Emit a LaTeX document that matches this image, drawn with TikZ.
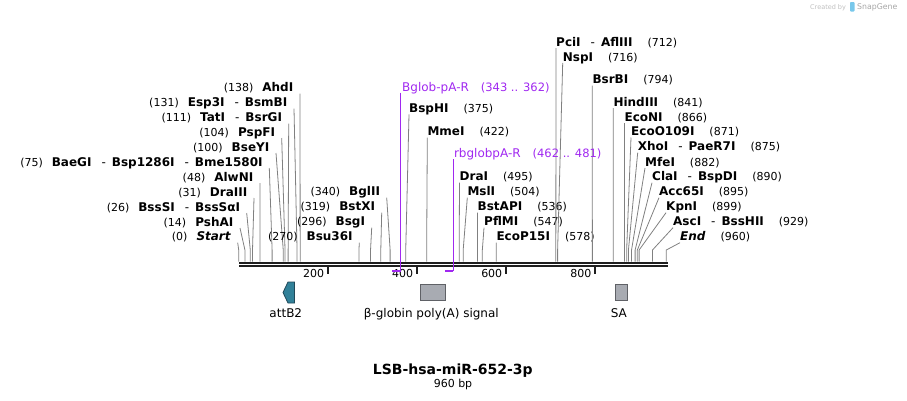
\documentclass[tikz,border=0pt]{standalone}
\usepackage{fontspec}
\setmainfont{DejaVu Sans}
\usepackage{tikz}
\usetikzlibrary{positioning, calc}

\definecolor{cutgray}{RGB}{128,128,128}
\definecolor{bbcol}{RGB}{30,30,30}
\definecolor{primer}{RGB}{160,40,240}
\definecolor{attcol}{RGB}{49,129,153}
\definecolor{attedge}{RGB}{32,72,88}
\definecolor{boxgray}{RGB}{168,171,178}
\definecolor{boxedge}{RGB}{95,97,102}
\definecolor{logoblue}{RGB}{120,200,235}

\newcommand{\numtxt}[1]{{\fontsize{11}{13}\selectfont(#1)}}
\newcommand{\enztxt}[1]{{\fontsize{12}{14}\selectfont\bfseries #1}}
\newcommand{\dsh}{\hspace{10pt}\textmd{-}\hspace{6pt}}

\begin{document}
\begin{tikzpicture}[x=1pt, y=-1pt,
  cut/.style={draw=cutgray, line width=0.8pt},
  leftlbl/.style={anchor=base east, inner xsep=6.5pt, inner ysep=0pt},
  rightlbl/.style={anchor=base west, inner xsep=0pt, inner ysep=0pt},
  pline/.style={draw=primer, line width=1.3pt},
  featbox/.style={draw=boxedge, fill=boxgray, line width=0.8pt, inner sep=0pt},
  featlbl/.style={anchor=base, inner sep=0pt, font=\fontsize{12}{14}\selectfont}]

\useasboundingbox (0,0) rectangle (907,400);

\foreach \n/\s/\lx/\ly/\lab in {ahd/138/300/91.7/AhdI, esp/131/294/106.7/Esp3I\dsh BsmBI,
  tat/111/288.7/121.7/TatI\dsh BsrGI, psp/104/281.7/136/PspFI, bsey/100/276/151/BseYI,
  bae/75/269.3/166/BaeGI\dsh Bsp1286I\dsh Bme1580I, alw/48/260/181/AlwNI,
  draiii/31/254/196/DraIII, bss/26/246.7/211/BssSI\dsh BssSαI, psh/14/240/226/PshAI,
  startm/0/237.7/240.7/\textit{Start},
  bsu/270/359.3/240.7/Bsu36I, bsg/296/371.7/225.7/BsgI, bstx/319/381.7/210.7/BstXI,
  bgl/340/386.7/195.7/BglII}
{
  \coordinate (c\n) at ({238.7+\s*0.4454}, 261.7);
  \node[leftlbl] (\n) at (\lx,\ly) {\numtxt{\s}\hspace{9pt}\enztxt{\lab}};
  \draw[cut] ([yshift=-2pt]\n.base east) -- ([yshift=11.7pt]c\n) -- (c\n);
}

\foreach \n/\s/\lx/\ly/\lab in {bsph/375/409/112.3/BspHI, mme/422/427.3/135.7/MmeI,
  dra/495/459.5/180.7/DraI, msl/504/467.3/195.7/MslI, bsta/536/477.5/210.7/BstAPI,
  pfl/547/484/225.7/PflMI, ecop/578/496.3/240.7/EcoP15I,
  pci/712/556/46/PciI\dsh AflIII, nsp/716/562.7/61/NspI, bsrb/794/592.3/83.5/BsrBI,
  hind/841/613.3/106/HindIII, econ/866/624.4/121/EcoNI, ecoo/871/631/135.5/EcoO109I,
  xho/875/637.7/150.7/XhoI\dsh PaeR7I, mfe/882/645/166/MfeI,
  cla/890/652/180.7/ClaI\dsh BspDI, acc/895/659/195.7/Acc65I, kpn/899/666/210.7/KpnI,
  asc/929/673/225.7/AscI\dsh BssHII, endm/960/680/240.7/\textit{End}}
{
  \coordinate (c\n) at ({238.7+\s*0.4454}, 261.7);
  \node[rightlbl] (\n) at (\lx,\ly) {\enztxt{\lab}\hspace{15pt}\numtxt{\s}};
  \draw[cut] ([yshift=-2pt]\n.base west) -- ([yshift=11.7pt]c\n) -- (c\n);
}

\draw[bbcol, line width=2.3pt] (239,262.8) -- (668,262.8);
\draw[bbcol, line width=2pt] (239,266.3) -- (668,266.3);

\foreach \b in {200,400,600,800}
{
  \coordinate (t\b) at ({238.7+\b*0.4454}, 267);
  \draw[bbcol, line width=2pt] (t\b) -- ++(0,7);
  \node[anchor=base east, inner sep=0pt, font=\fontsize{11}{13}\selectfont] (tl\b) at ({238.7+\b*0.4454-3.5}, 277.3) {\b};
}

\node[rightlbl, text=primer] (bglob) at (402,91) {{\fontsize{12}{14}\selectfont Bglob-pA-R}\hspace{12pt}{\fontsize{11.5}{13}\selectfont(343 .. 362)}};
\coordinate (p1) at (400.7,270.5);
\draw[pline] ([xshift=-1.3pt,yshift=-1.5pt]bglob.base west) -- (p1);
\draw[primer, line width=2pt] (p1) -- ++(-9,0);

\node[rightlbl, text=primer] (rbglob) at (453.8,157.7) {{\fontsize{12}{14}\selectfont rbglobpA-R}\hspace{12pt}{\fontsize{11.5}{13}\selectfont(462 .. 481)}};
\coordinate (p2) at (453.3,270.5);
\draw[pline] ([xshift=-0.5pt,yshift=-1.5pt]rbglob.base west) -- (p2);
\draw[primer, line width=2pt] (p2) -- ++(-8.5,0);

\draw[fill=attcol, draw=attedge, line width=0.8pt] (294.5,282) -- (288,282) -- (283,292.5) -- (288,303) -- (294.5,303) -- cycle;
\node[featlbl] (attl) at (285.8,317) {attB2};

\node[featbox, minimum width=25.7pt, minimum height=16.7pt] (bglobf) at (432.9,292.4) {};
\node[featlbl] (bglobl) at (431.3,317) {β-globin poly(A) signal};

\node[featbox, minimum width=12.7pt, minimum height=16.7pt] (saf) at (621.4,292.4) {};
\node[featlbl] (sal) at (618.8,317) {SA};

\node[anchor=base, inner sep=0pt, font=\fontsize{14}{16}\selectfont\bfseries] (title) at (452.8,374) {LSB-hsa-miR-652-3p};
\node[anchor=base, inner sep=0pt, font=\fontsize{11}{13}\selectfont] (len) at (453,387) {960 bp};

\node[anchor=base west, inner sep=0pt, text=gray!50, font=\fontsize{6.5}{8}\selectfont] (cby) at (810,9.5) {Created by};
\fill[logoblue, rounded corners=0.8pt] (850,2) rectangle (854.5,11.5);
\node[anchor=base west, inner sep=0pt, text=gray!70, font=\fontsize{7.8}{9}\selectfont] (sgene) at (857,9.5) {SnapGene};

\end{tikzpicture}
\end{document}
